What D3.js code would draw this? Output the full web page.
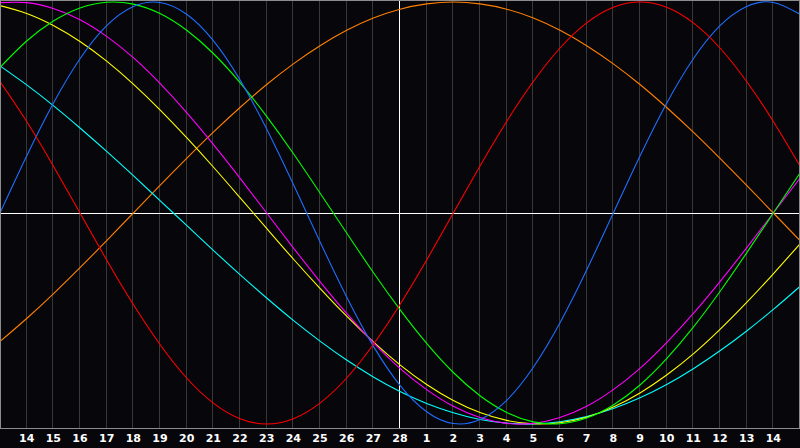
<!DOCTYPE html>
<html><head><meta charset="utf-8">
<script src="https://cdn.jsdelivr.net/npm/d3@7"></script>
<style>html,body{margin:0;padding:0;background:#07060a;}svg{display:block;}</style>
</head><body>
<svg id="c" width="800" height="448"></svg>
<script>
// day index 0..30 across the chart, labels at day 1..29
const tickLabels = ["14","15","16","17","18","19","20","21","22","23","24","25","26","27","28","1","2","3","4","5","6","7","8","9","10","11","12","13","14"];
const red = [0.623,0.434,0.223,0,-0.223,-0.434,-0.623,-0.782,-0.901,-0.975,-1,-0.975,-0.901,-0.782,-0.623,-0.434,-0.223,0,0.223,0.434,0.623,0.782,0.901,0.975,1,0.975,0.901,0.782,0.623,0.434,0.223];
const blue = [0,0.270,0.520,0.731,0.888,0.979,0.998,0.942,0.817,0.631,0.398,0.136,-0.136,-0.398,-0.631,-0.817,-0.942,-0.998,-0.979,-0.888,-0.731,-0.520,-0.270,0,0.270,0.520,0.731,0.888,0.979,0.998,0.942];
const green = [0.690,0.815,0.910,0.972,0.999,0.990,0.945,0.866,0.756,0.618,0.458,0.282,0.095,-0.095,-0.282,-0.458,-0.618,-0.756,-0.866,-0.945,-0.990,-0.999,-0.972,-0.910,-0.815,-0.690,-0.541,-0.372,-0.189,0,0.189];
const orange = [-0.609,-0.5,-0.383,-0.259,-0.131,0,0.131,0.259,0.383,0.5,0.609,0.707,0.793,0.866,0.924,0.966,0.991,1,0.991,0.966,0.924,0.866,0.793,0.707,0.609,0.5,0.383,0.259,0.131,0,-0.131];
const magenta = [0.997,0.997,0.969,0.916,0.837,0.736,0.614,0.476,0.325,0.165,0,-0.165,-0.325,-0.476,-0.614,-0.736,-0.837,-0.916,-0.969,-0.997,-0.997,-0.969,-0.916,-0.837,-0.736,-0.614,-0.476,-0.325,-0.165,0,0.165];
const yellow = [0.983,0.946,0.889,0.813,0.720,0.611,0.489,0.357,0.218,0.073,-0.073,-0.218,-0.357,-0.489,-0.611,-0.720,-0.813,-0.889,-0.946,-0.983,-0.999,-0.994,-0.968,-0.920,-0.853,-0.768,-0.668,-0.552,-0.424,-0.288,-0.146];
const cyan = [0.697,0.607,0.509,0.403,0.292,0.177,0.059,-0.059,-0.177,-0.292,-0.403,-0.509,-0.607,-0.697,-0.777,-0.846,-0.903,-0.947,-0.979,-0.996,-1.000,-0.989,-0.965,-0.927,-0.876,-0.813,-0.738,-0.653,-0.559,-0.457,-0.348];

const series = [
  {values: orange, color: "#ff8000"},
  {values: cyan, color: "#00ffff"},
  {values: yellow, color: "#ffff00"},
  {values: magenta, color: "#ff00ff"},
  {values: green, color: "#00ff00"},
  {values: blue, color: "#1e6eff"},
  {values: red, color: "#ff0000"}
];

const svg = d3.select("#c");
const x = d3.scaleLinear().domain([0, 30]).range([0, 800]);
const y = d3.scaleLinear().domain([-1, 1]).range([424, 2]);

svg.append("rect").attr("width", 800).attr("height", 448).attr("fill", "#07060a");

// grid
const days = d3.range(1, 30);
svg.append("g").selectAll("line").data(days).join("line")
  .attr("x1", d => Math.round(x(d)) - 0.5).attr("x2", d => Math.round(x(d)) - 0.5)
  .attr("y1", 1).attr("y2", 428)
  .attr("stroke", "#383838").attr("stroke-width", 1).attr("shape-rendering", "crispEdges");

// center axes
svg.append("line").attr("x1", x(15) - 0.5).attr("x2", x(15) - 0.5).attr("y1", 1).attr("y2", 428)
  .attr("stroke", "#ffffff").attr("shape-rendering", "crispEdges");
svg.append("line").attr("x1", 1).attr("x2", 799).attr("y1", y(0) + 0.5).attr("y2", y(0) + 0.5)
  .attr("stroke", "#ffffff").attr("shape-rendering", "crispEdges");

// curves
const line = d3.line().x((d, i) => x(i)).y(d => y(d)).curve(d3.curveNatural);
svg.append("g").selectAll("path").data(series).join("path")
  .attr("d", s => line(s.values))
  .attr("fill", "none").attr("stroke", s => s.color).attr("stroke-width", 1.1);

// border
svg.append("rect").attr("x", 0.5).attr("y", 0.5).attr("width", 799).attr("height", 428)
  .attr("fill", "none").attr("stroke", "#8c8c8c").attr("shape-rendering", "crispEdges");

// labels
svg.append("g").selectAll("text").data(tickLabels).join("text")
  .attr("x", (d, i) => x(i + 1))
  .attr("y", 442)
  .attr("text-anchor", "middle")
  .attr("fill", "#ffffff")
  .attr("font-family", "DejaVu Sans, sans-serif")
  .attr("font-weight", "bold")
  .attr("font-size", 11)
  .text(d => d);
</script>
</body></html>
